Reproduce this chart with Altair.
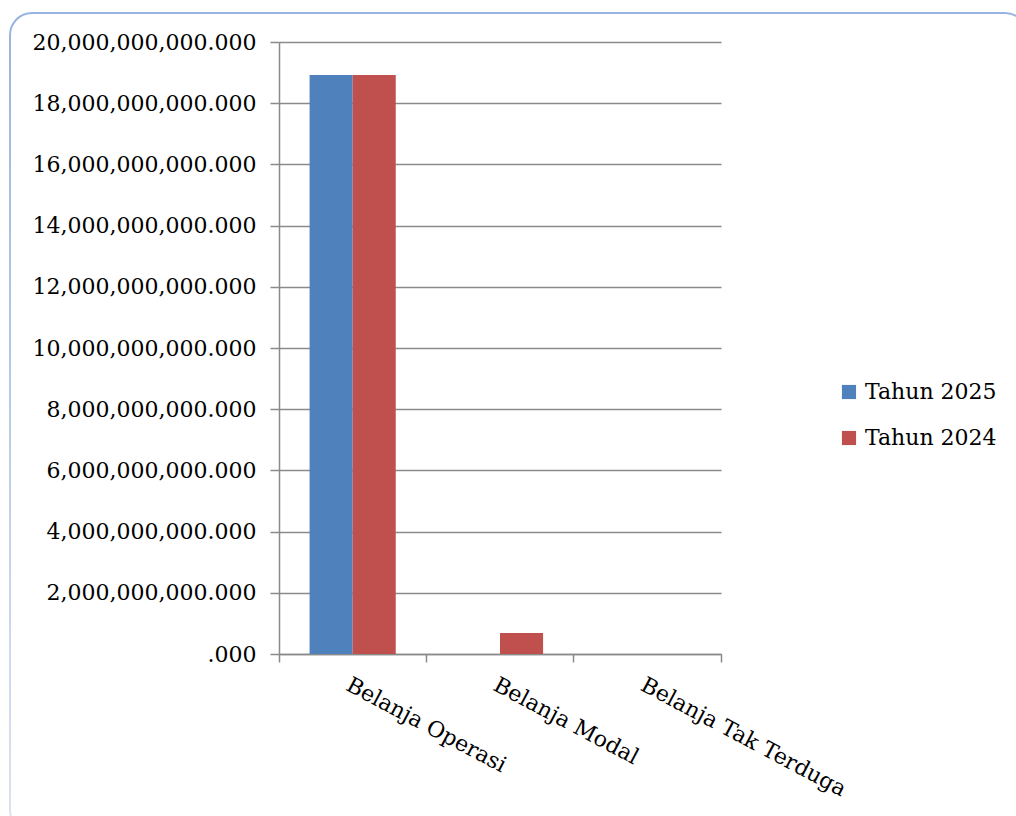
import altair as alt
import pandas as pd

# Spending categories and yearly totals (Rupiah)
categories = ["Belanja Operasi", "Belanja Modal", "Belanja Tak Terduga"]
tahun_2025 = [18_920_000_000, 0, 0]
tahun_2024 = [18_920_000_000, 690_000_000, 0]
series = ["Tahun 2025", "Tahun 2024"]
series_colors = ["#4F81BD", "#C0504D"]
y_ticks = [i * 2_000_000_000 for i in range(11)]

rows = []
for cat, v25, v24 in zip(categories, tahun_2025, tahun_2024):
    rows.append({"Kategori": cat, "Tahun": series[0], "Nilai": v25})
    rows.append({"Kategori": cat, "Tahun": series[1], "Nilai": v24})
df = pd.DataFrame(rows)

FONT = "DejaVu Serif"
GRID = "#8a8a8a"

bars = alt.Chart(df).mark_bar().encode(
    x=alt.X(
        "Kategori:N",
        sort=categories,
        scale=alt.Scale(paddingInner=0, paddingOuter=0),
        axis=alt.Axis(
            title=None,
            labelAngle=28,
            labelAlign="left",
            labelBaseline="top",
            labelFont=FONT,
            labelFontSize=22,
            labelColor="#000000",
            labelPadding=12,
            labelLimit=0,
            bandPosition=1,
            tickExtra=True,
            tickSize=8,
            tickColor=GRID,
            tickWidth=1.5,
            domainColor=GRID,
            domainWidth=1.5,
            grid=False,
        ),
    ),
    xOffset=alt.XOffset(
        "Tahun:N",
        sort=series,
        scale=alt.Scale(paddingInner=0, paddingOuter=0.71),
    ),
    y=alt.Y(
        "Nilai:Q",
        scale=alt.Scale(domain=[0, 20_000_000_000], nice=False),
        axis=alt.Axis(
            title=None,
            values=y_ticks,
            labelExpr="datum.value == 0 ? '.000' : format(datum.value, ',') + '.000'",
            labelFont=FONT,
            labelFontSize=22,
            labelColor="#000000",
            labelPadding=14,
            labelLimit=0,
            tickSize=9,
            tickColor=GRID,
            tickWidth=1.5,
            domainColor=GRID,
            domainWidth=1.5,
            grid=True,
            gridColor=GRID,
            gridWidth=1.5,
        ),
    ),
    color=alt.Color(
        "Tahun:N",
        sort=series,
        scale=alt.Scale(domain=series, range=series_colors),
        legend=alt.Legend(
            title=None,
            orient="none",
            legendX=559,
            legendY=339,
            symbolType="square",
            symbolSize=200,
            symbolStrokeWidth=0,
            labelFont=FONT,
            labelFontSize=22,
            labelColor="#000000",
            labelOffset=5,
            labelLimit=0,
            rowPadding=24,
            padding=0,
        ),
    ),
)

# Rounded frame around the whole figure
frame = alt.Chart(pd.DataFrame({"k": [0]})).mark_rect(
    fill=None,
    cornerRadius=22,
    strokeWidth=2,
    stroke=alt.Gradient(
        gradient="linear",
        x1=0, y1=0, x2=0, y2=1,
        stops=[
            alt.GradientStop(offset=0, color="#98b3e2"),
            alt.GradientStop(offset=1, color="#dde3ee"),
        ],
    ),
).encode(
    x=alt.value(-269),
    x2=alt.value(748),
    y=alt.value(-29),
    y2=alt.value(790),
)

chart = alt.layer(frame, bars).properties(
    width=442,
    height=612,
    autosize=alt.AutoSizeParams(type="none"),
    padding={"left": 279, "top": 42, "right": 295, "bottom": 162},
    background="#ffffff",
).configure_view(stroke=None)

chart.save("out.html", embed_options={"renderer": "svg", "actions": False})
